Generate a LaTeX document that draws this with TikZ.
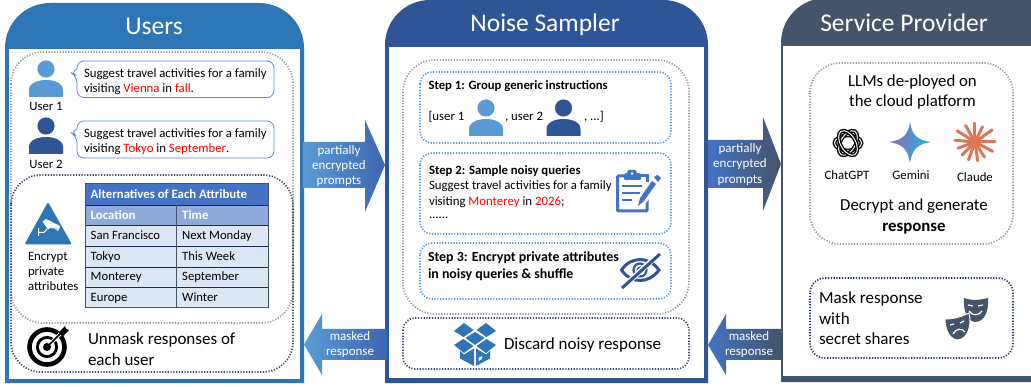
\documentclass[tikz,border=0pt]{standalone}
\usepackage{fontspec}
\setmainfont{Carlito}
\usetikzlibrary{calc}
\definecolor{cuser}{HTML}{2E75B6}
\definecolor{cnoise}{HTML}{2F5597}
\definecolor{cserv}{HTML}{44546A}
\definecolor{clight}{HTML}{5B9BD5}
\definecolor{cmid}{HTML}{4472C4}
\definecolor{cnavy}{HTML}{1F3864}
\definecolor{cgrey}{HTML}{9C9C9C}
\definecolor{csub}{HTML}{8EAADB}
\definecolor{crow}{HTML}{DCE6F4}
\definecolor{cclaude}{HTML}{D97757}
\newcommand{\fsz}[1]{\fontsize{#1}{#1}\selectfont}
\newcommand{\red}[1]{\textcolor{red}{#1}}
\newcommand{\persona}[3]{\begin{scope}[shift={(#1,#2)}]
  \fill[#3] (0,0) circle (8.6);
  \fill[#3] (-17,28) -- (-17,21) .. controls (-17,14) and (-8,11) .. (0,11) .. controls (8,11) and (17,14) .. (17,21) -- (17,28) -- cycle;
\end{scope}}
\tikzset{
  txt/.style={inner sep=0pt,outer sep=0pt,text=black,font=\fsz{12.8},align=left,anchor=west},
  ctr/.style={inner sep=0pt,outer sep=0pt,text=black,font=\fsz{12.8},align=center,anchor=center},
  big/.style={inner sep=0pt,outer sep=0pt,text=black,align=left,anchor=west},
  title/.style={inner sep=0pt,text=white,font=\fsz{25.5},anchor=center},
  arrowtext/.style={inner sep=0pt,text=white,align=center,anchor=center},
  greybox/.style={draw=cgrey,line width=1.7pt,dash pattern=on 1.2pt off 1.6pt,rounded corners=32pt},
  navybox/.style={draw=cserv!70!cnavy,line width=1.7pt,dash pattern=on 1.2pt off 1.6pt},
  bluebox/.style={draw=clight,line width=1.7pt,dash pattern=on 1.2pt off 1.6pt,rounded corners=12pt},
  bubble/.style={draw=cmid!85!white,line width=.8pt,fill=white,rounded corners=7pt},
  cell/.style={inner sep=0pt,text=black,font=\fsz{12.7},anchor=west,text height=9pt,text depth=3pt},
  headcell/.style={inner sep=0pt,text=white,font=\fsz{12.8}\bfseries,anchor=west,text height=9pt,text depth=3pt},
}
\begin{document}
\begin{tikzpicture}[x=1pt,y=-1pt]
\useasboundingbox (0,0) rectangle (1031,387);
\fill[white] (0,0) rectangle (1031,387);
% panels
\fill[cuser] (5,383) [rounded corners=45pt] -- (5,3) -- (304,3) [sharp corners] -- (304,383) -- cycle;
\fill[white] (9,49) rectangle (300,379);
\fill[cnoise] (385,383) [rounded corners=45pt] -- (385,0) -- (708,0) [sharp corners] -- (708,383) -- cycle;
\fill[white] (389,47) rectangle (704,378);
\fill[cserv] (781,382) [rounded corners=45pt] -- (781,-2) -- (1076,-2) -- (1076,382) [sharp corners] -- cycle;
\fill[white] (783,46) rectangle (1031,376);
\node[title] (tusers) at (154,26) {Users};
\node[title] (tnoise) at (545,24.5) {Noise Sampler};
\node[title] (tserv) at (904,23) {Service Provider};
% boxes users
\draw[greybox] (11,52) rectangle (293,323);
\draw[navybox,rounded corners=30pt] (11,175) rectangle (293,372);
\persona{46}{69}{clight}
\persona{46}{126}{cnoise}
\node[ctr] (u1) at (46,106.5) {User 1};
\node[ctr] (u2) at (46,164.5) {User 2};
\draw[bubble] (77,69) -- (70,72) -- (77,76) [rounded corners=7pt] -- (77,97.5) -- (274,97.5) -- (274,61) -- (77,61) [sharp corners] -- cycle;
\draw[bubble] (77,129) -- (70,132) -- (77,136) [rounded corners=7pt] -- (77,158) -- (274,158) -- (274,121) -- (77,121) [sharp corners] -- cycle;
\node[txt,font=\fontsize{12.8}{15.2}\selectfont] (b1) at (84,81.5) {Suggest travel activities for a family\\visiting \red{Vienna} in \red{fall}.};
\node[txt,font=\fontsize{12.8}{15.2}\selectfont] (b2) at (84,141.5) {Suggest travel activities for a family\\visiting \red{Tokyo} in \red{September}.};
% table
\fill[cmid] (85,184) rectangle (268.5,205);
\fill[csub] (85,205) rectangle (268.5,225.5);
\fill[crow] (85,225.5) rectangle (268.5,308);
\foreach \yy in {205,225.5,246.2,267,287.5}{\draw[cnavy!80!black,line width=.8pt] (85,\yy) -- (268.5,\yy);}
\draw[cserv,line width=1pt] (85,184) rectangle (268.5,308);
\draw[cserv,line width=1pt] (176.7,205) -- (176.7,308);
\node[headcell] (th) at (90.5,195.5) {Alternatives of Each Attribute};
\node[headcell] (tl) at (90.5,216.5) {Location};
\node[headcell] (tt) at (182,216.5) {Time};
\node[cell] (c11) at (90.5,237) {San Francisco};
\node[cell] (c12) at (182,237) {Next Monday};
\node[cell] (c21) at (90.5,257.5) {Tokyo};
\node[cell] (c22) at (182,257.5) {This Week};
\node[cell] (c31) at (90.5,278) {Monterey};
\node[cell] (c32) at (182,278) {September};
\node[cell] (c41) at (90.5,299) {Europe};
\node[cell] (c42) at (182,299) {Winter};
% camera triangle
\fill[cuser,rounded corners=2pt] (48,202) -- (72,244.5) -- (24.5,244.5) -- cycle;
\fill[white] (42.5,221.5) -- (46,219) -- (60,226) -- (59,229) -- (50,228) -- (48,229.5) -- cycle;
\fill[white] (55,229.5) -- (59,229.5) -- (58,231) -- cycle;
\draw[white,line width=1pt] (38.5,228) -- (38.5,236) (38.5,232.5) -- (44,232.5) -- (47,229);
\node[txt,font=\fontsize{12.8}{15.3}\selectfont] (enc) at (28,271.5) {Encrypt\\private\\attributes};
% target
\draw[black,line width=4.6pt] (47,347) circle (17.5);
\draw[black,line width=2.8pt] (47,347) circle (9.6);
\fill[black] (47,347) circle (4);
\draw[white,line width=3.6pt] (50,344) -- (60,334);
\draw[black,line width=1.6pt] (47,347) -- (62,332);
\fill[black] (59,332) -- (65,326) -- (66,329) -- (69,330) -- (63,336) -- cycle;
\node[big,font=\fontsize{17}{20.4}\selectfont] (unm) at (88,349) {Unmask responses of\\each user};
% arrows
\shade[left color=clight,right color=cmid!90!black] (303,142) -- (365,142) -- (365,120) -- (385,165) -- (365,212) -- (365,188) -- (303,188) -- cycle;
\node[arrowtext,font=\fontsize{13}{15.2}\selectfont] (a1) at (339,166) {partially\\encrypted\\prompts};
\shade[left color=clight,right color=cmid!90!black] (304,344.5) -- (322,314) -- (322,329) -- (387,329) -- (387,360) -- (322,360) -- (322,375) -- cycle;
\node[arrowtext,font=\fontsize{13}{15.2}\selectfont] (a2) at (350,344.5) {masked\\response};
\shade[left color=cmid,right color=cserv] (708,140) -- (763,140) -- (763,117) -- (781,164) -- (763,211) -- (763,188) -- (708,188) -- cycle;
\node[arrowtext,font=\fontsize{13}{15.2}\selectfont] (a3) at (740,164.5) {partially\\encrypted\\prompts};
\shade[left color=cmid,right color=cserv] (708,345) -- (726,314) -- (726,329) -- (781,329) -- (781,360) -- (726,360) -- (726,375) -- cycle;
\node[arrowtext,font=\fontsize{13}{15.2}\selectfont] (a4) at (749,344.5) {masked\\response};
% noise sampler
\draw[greybox] (403,60) rectangle (689,314);
\draw[bluebox] (420,72) rectangle (671,143);
\draw[bluebox] (420,153) rectangle (671,234);
\draw[bluebox] (420,243) rectangle (671,299);
\draw[navybox,rounded corners=12pt] (403,318) rectangle (689,369);
\node[txt,font=\fsz{12.7}\bfseries] (s1) at (428.5,86.5) {Step 1: Group generic instructions};
\node[txt] (s1a) at (428.5,117) {[user 1};
\persona{486}{108}{clight}
\node[txt] (s1b) at (505,117) {, user 2};
\persona{563.5}{108}{cnoise}
\node[txt] (s1c) at (584,117) {, ...]};
\node[txt,font=\fsz{12.7}\bfseries] (s2) at (429,171) {Step 2: Sample noisy queries};
\node[txt] (s2a) at (429,186.5) {Suggest travel activities for a family};
\node[txt] (s2b) at (429,202) {visiting \red{Monterey} in \red{2026};};
\node[txt] (s2c) at (429,218) {......};
% clipboard
\draw[cmid,line width=3pt,rounded corners=1pt] (624,176) -- (617.5,176) -- (617.5,211) -- (647,211) -- (647,199);
\draw[cmid,line width=3pt] (640,176) -- (647,176) -- (647,182);
\fill[cmid,rounded corners=1pt] (624,173.5) -- (627,173.5) -- (628,170) -- (636,170) -- (637,173.5) -- (641,173.5) -- (641,180) -- (624,180) -- cycle;
\fill[white] (632,173.5) circle (1.4);
\draw[cmid,line width=2pt] (622,186.5) -- (642,186.5) (622,193.5) -- (640,193.5) (622,200.5) -- (632,200.5);
\fill[white] (636,205) -- (654,178) -- (660,182) -- (642,209) -- cycle;
\fill[cmid] (638,206) -- (640,198) -- (652,181) -- (656,184) -- (644,201) -- cycle;
\fill[cmid] (654,177) -- (657,175) -- (657.5,175) -- (661,178) -- (658,182) -- cycle;
\node[txt,font=\fontsize{13.9}{17}\selectfont\bfseries] (s3) at (428,266.5) {Step 3: Encrypt private attributes\\in noisy queries \& shuffle};
% eye
\draw[cnoise,line width=3pt] (621.5,270) .. controls (631,256) and (649,256) .. (659,270) .. controls (649,284) and (631,284) .. (621.5,270) -- cycle;
\draw[cnoise,line width=2.2pt] (640,270) circle (6.5);
\fill[cnoise] (640,270) circle (3.5);
\draw[white,line width=5.4pt] (623,287) -- (659,254);
\draw[cnoise,line width=3pt] (622,288) -- (660,254);
% box
\fill[cuser] (454,331) -- (464,323) -- (473.5,330) -- (463.5,337) -- cycle;
\fill[cuser] (476.5,330) -- (486,323) -- (496,331) -- (486.5,337) -- cycle;
\fill[cuser] (475,332) -- (484.5,338) -- (475,345) -- (465.5,338) -- cycle;
\fill[cuser] (454,345) -- (463.5,339) -- (473.5,346) -- (464,353) -- cycle;
\fill[cuser] (476.5,346) -- (486.5,339) -- (496,345) -- (486,353) -- cycle;
\fill[cuser] (460,351) -- (464,354.5) -- (474,348.5) -- (474,366) -- (460,358.5) -- cycle;
\fill[cuser] (490,351) -- (486,354.5) -- (476,348.5) -- (476,366) -- (490,358.5) -- cycle;
\fill[white] (478.5,361) -- (482,359) -- (482,356) -- (478.5,358) -- cycle;
\node[big,font=\fsz{17}] (disc) at (504,345) {Discard noisy response};
% service
\draw[greybox,rounded corners=30pt] (810,63) rectangle (1013,244);
\node[ctr,font=\fontsize{16.8}{20.4}\selectfont] (llm) at (912.5,92) {LLMs de-ployed on\\the cloud platform};
% chatgpt
\begin{scope}[shift={(848,143)}]
\foreach \a in {0,60,120}{
  \draw[black,line width=3.8pt,rotate=\a] (0,0) ellipse (13.5 and 7.5);
  \draw[white,line width=1pt,rotate=\a] (0,0) ellipse (13.5 and 7.5);}
\end{scope}
% gemini
\shade[left color=cmid!30!violet!70!white,right color=cyan!50!cuser] (910,122) .. controls (912,135) and (917,140) .. (931,142) .. controls (917,144) and (912,150) .. (910,163) .. controls (908,150) and (903,144) .. (889,142) .. controls (903,140) and (908,135) .. cycle;
% claude
\begin{scope}[shift={(975,142)}]
\foreach \a/\l in {0/20,28/20,58/18,82/19,110/19,135/18,160/18,185/20,212/21,240/19,268/19,296/17,325/21}{\draw[cclaude,line width=3pt,line cap=round] (0,0) -- (\a:\l);}
\end{scope}
\node[ctr] (gpt) at (847,175) {ChatGPT};
\node[ctr] (gem) at (911,175) {Gemini};
\node[ctr] (cla) at (975,177) {Claude};
\node[ctr,font=\fontsize{16.8}{20.6}\selectfont] (dec) at (914,216.5) {Decrypt and generate\\\textbf{response}};
\draw[navybox,rounded corners=15pt,draw=cnavy] (810,278) rectangle (1013,358);
\node[big,font=\fontsize{17}{20.4}\selectfont] (mask) at (819,318.5) {Mask response\\with\\secret shares};
% masks
\fill[cserv] (964,298) .. controls (972,301) and (980,300) .. (988,298) .. controls (989,310) and (985,322) .. (975,322) .. controls (967,321) and (963,310) .. (964,298) -- cycle;
\draw[white,line width=1.2pt] (968,305) -- (973,306) (978,306) -- (983,305);
\draw[white,line width=1.2pt] (969,311) .. controls (972,316) and (979,316) .. (982,311);
\fill[cserv,draw=white,line width=1pt] (945,319) .. controls (953,319) and (961,317) .. (969,313) .. controls (972,325) and (968,339) .. (958,340) .. controls (950,340) and (945,330) .. (945,319) -- cycle;
\draw[white,line width=1.2pt] (950,325) -- (954,324) (960,323) -- (964,321);
\draw[white,line width=1.2pt] (953,334) .. controls (956,328) and (962,328) .. (965,332);
\end{tikzpicture}
\end{document}
